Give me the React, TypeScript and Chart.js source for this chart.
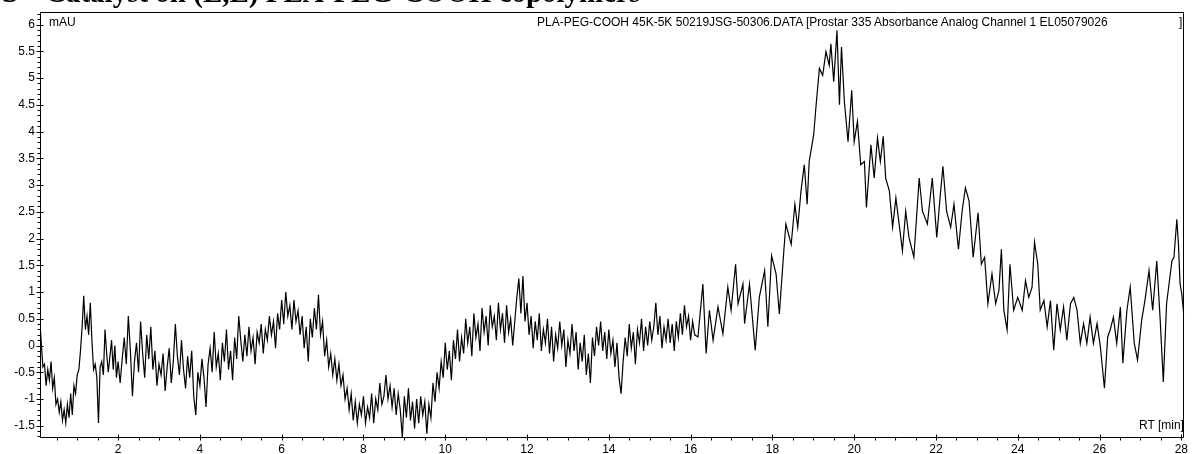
import React, { useEffect, useRef } from "react";
import { Chart, registerables } from "chart.js";

Chart.register(...registerables);

// Retention time (min) and absorbance (mAU)
const rtMin: number[] = [
  0.10, 0.13, 0.16, 0.20, 0.24, 0.28, 0.32, 0.36, 0.40, 0.44, 0.48, 0.52, 0.56, 0.60, 0.64, 0.68, 0.72, 0.76, 0.80, 0.84,
  0.88, 0.92, 0.96, 1.00, 1.04, 1.08, 1.12, 1.16, 1.20, 1.24, 1.28, 1.32, 1.36, 1.40, 1.44, 1.48, 1.52, 1.56, 1.60, 1.64,
  1.68, 1.72, 1.76, 1.80, 1.84, 1.88, 1.92, 1.96, 2.00, 2.05, 2.10, 2.15, 2.20, 2.25, 2.30, 2.35, 2.40, 2.45, 2.50, 2.55,
  2.60, 2.65, 2.70, 2.75, 2.80, 2.85, 2.90, 2.95, 3.00, 3.05, 3.10, 3.15, 3.20, 3.25, 3.30, 3.35, 3.40, 3.45, 3.50, 3.55,
  3.60, 3.65, 3.70, 3.75, 3.80, 3.85, 3.90, 3.95, 4.00, 4.05, 4.10, 4.15, 4.20, 4.25, 4.30, 4.35, 4.40, 4.45, 4.50, 4.55,
  4.60, 4.65, 4.70, 4.75, 4.80, 4.85, 4.90, 4.95, 5.00, 5.05, 5.10, 5.15, 5.20, 5.25, 5.30, 5.35, 5.40, 5.45, 5.50, 5.55,
  5.60, 5.65, 5.70, 5.75, 5.80, 5.85, 5.90, 5.95, 6.00, 6.05, 6.10, 6.15, 6.20, 6.25, 6.30, 6.35, 6.40, 6.45, 6.50, 6.55,
  6.60, 6.65, 6.70, 6.75, 6.80, 6.85, 6.90, 6.95, 7.00, 7.05, 7.10, 7.15, 7.20, 7.25, 7.30, 7.35, 7.40, 7.45, 7.50, 7.55,
  7.60, 7.65, 7.70, 7.75, 7.80, 7.85, 7.90, 7.95, 8.00, 8.05, 8.10, 8.15, 8.20, 8.25, 8.30, 8.35, 8.40, 8.45, 8.50, 8.55,
  8.60, 8.65, 8.70, 8.75, 8.80, 8.85, 8.90, 8.95, 9.00, 9.05, 9.10, 9.15, 9.20, 9.25, 9.30, 9.35, 9.40, 9.45, 9.50, 9.55,
  9.60, 9.65, 9.70, 9.75, 9.80, 9.85, 9.90, 9.95, 10.00, 10.05, 10.10, 10.15, 10.20, 10.25, 10.30, 10.35, 10.40, 10.45, 10.50, 10.55,
  10.60, 10.65, 10.70, 10.75, 10.80, 10.85, 10.90, 10.95, 11.00, 11.05, 11.10, 11.15, 11.20, 11.25, 11.30, 11.35, 11.40, 11.45, 11.50, 11.55,
  11.60, 11.65, 11.70, 11.75, 11.80, 11.85, 11.90, 11.95, 12.00, 12.05, 12.10, 12.15, 12.20, 12.25, 12.30, 12.35, 12.40, 12.45, 12.50, 12.55,
  12.60, 12.65, 12.70, 12.75, 12.80, 12.85, 12.90, 12.95, 13.00, 13.05, 13.10, 13.15, 13.20, 13.25, 13.30, 13.35, 13.40, 13.45, 13.50, 13.55,
  13.60, 13.65, 13.70, 13.75, 13.80, 13.85, 13.90, 13.95, 14.00, 14.05, 14.10, 14.15, 14.20, 14.25, 14.30, 14.35, 14.40, 14.45, 14.50, 14.55,
  14.60, 14.65, 14.70, 14.75, 14.80, 14.85, 14.90, 14.95, 15.00, 15.05, 15.10, 15.15, 15.20, 15.25, 15.30, 15.35, 15.40, 15.45, 15.50, 15.55,
  15.60, 15.65, 15.70, 15.75, 15.80, 15.85, 15.90, 15.95, 16.00, 16.05, 16.10,
  16.18, 16.30, 16.38, 16.46, 16.55, 16.67, 16.79, 16.91, 16.99, 17.10, 17.16, 17.28, 17.32, 17.44, 17.58, 17.68, 17.81, 17.89, 17.98, 18.09,
  18.17, 18.28, 18.33, 18.46, 18.55, 18.62, 18.70, 18.78, 18.85, 18.90, 19.01, 19.07, 19.15, 19.23, 19.31, 19.39, 19.43, 19.50, 19.58, 19.64,
  19.69, 19.76, 19.85, 19.94, 20.00, 20.08, 20.16, 20.25, 20.30, 20.41, 20.49, 20.57, 20.64, 20.71, 20.77, 20.86, 20.94, 21.02, 21.10, 21.18,
  21.26, 21.34, 21.46, 21.59, 21.67, 21.79, 21.91, 22.02, 22.10, 22.17, 22.26, 22.36, 22.44, 22.55, 22.64, 22.72, 22.81, 22.91, 23.03, 23.11,
  23.19, 23.27, 23.37, 23.46, 23.54, 23.60, 23.66, 23.74, 23.81, 23.90, 24.00, 24.11, 24.19, 24.27, 24.35, 24.41, 24.49, 24.55, 24.64, 24.72,
  24.80, 24.88, 24.96, 25.04, 25.12, 25.20, 25.29, 25.37, 25.45, 25.53, 25.61, 25.69, 25.77, 25.85, 25.94, 26.02, 26.12, 26.20, 26.26, 26.34,
  26.42, 26.51, 26.57, 26.67, 26.75, 26.85, 26.93, 27.03, 27.11, 27.21, 27.30, 27.40, 27.48, 27.56, 27.64, 27.77, 27.82, 27.89, 27.93, 27.97,
  28.01, 28.06,
];

const absorbanceMAU: number[] = [
  0.30, -0.05, -0.40, -0.35, -0.75, -0.45, -0.65, -0.30, -0.80, -0.60, -1.10, -1.00, -1.25, -1.05, -1.40, -1.20, -1.45, -1.10, -1.35, -0.90,
  -1.30, -0.75, -0.90, -0.55, -0.45, -0.10, 0.35, 0.93, 0.30, 0.55, 0.20, 0.80, 0.10, -0.45, -0.35, -0.60, -1.45, -0.40, -0.30, -0.55,
  0.30, -0.15, -0.50, -0.20, 0.10, -0.45, 0.00, -0.60, -0.30, -0.70, -0.25, 0.15, -0.35, 0.55, -0.10, -0.95, -0.30, 0.05, -0.50, 0.45,
  -0.15, -0.60, 0.20, -0.25, 0.35, -0.45, -0.10, -0.75, -0.35, -0.55, -0.15, -0.85, -0.40, -0.05, -0.70, -0.30, 0.40, -0.20, -0.55, 0.10,
  -0.45, -0.80, -0.20, -0.60, -0.10, -0.95, -1.30, -0.50, -0.75, -0.25, -0.60, -1.15, -0.35, -0.05, -0.50, 0.25, -0.40, -0.15, -0.65, 0.05,
  -0.30, 0.30, -0.45, -0.10, -0.65, 0.15, -0.25, 0.55, 0.10, -0.30, 0.20, -0.20, 0.35, -0.10, 0.15, -0.35, 0.25, 0.05, 0.40, -0.15,
  0.30, 0.10, 0.55, 0.20, 0.45, -0.05, 0.60, 0.30, 0.85, 0.40, 1.00, 0.55, 0.75, 0.30, 0.85, 0.45, 0.65, 0.20, 0.55, -0.05,
  0.35, -0.30, 0.50, 0.15, 0.70, 0.30, 0.95, 0.20, 0.45, -0.20, 0.10, -0.40, -0.15, -0.55, -0.25, -0.65, -0.35, -0.75, -0.55, -1.00,
  -0.80, -1.20, -0.90, -1.40, -1.05, -1.45, -1.10, -1.30, -0.95, -1.45, -1.15, -1.35, -0.90, -1.45, -1.00, -1.20, -0.70, -1.10, -0.95, -0.55,
  -1.00, -0.75, -1.15, -0.80, -1.30, -0.90, -1.20, -1.72, -0.95, -1.35, -0.80, -1.40, -1.05, -1.55, -1.00, -1.45, -0.95, -1.30, -1.05, -1.65,
  -1.10, -1.35, -0.70, -1.05, -0.50, -0.80, -0.30, -0.60, 0.05, -0.45, -0.10, -0.65, 0.10, -0.25, 0.30, -0.30, 0.15, -0.15, 0.50, 0.05,
  0.35, -0.20, 0.60, 0.15, 0.40, -0.10, 0.70, 0.25, 0.55, 0.00, 0.75, 0.35, 0.55, 0.10, 0.80, 0.30, 0.60, 0.05, 0.75, 0.25,
  0.50, 0.00, 0.45, 0.90, 1.25, 0.60, 1.30, 0.45, 0.80, 0.20, 0.55, -0.05, 0.45, 0.10, 0.60, -0.10, 0.30, 0.05, 0.50, -0.15,
  0.35, -0.30, 0.20, -0.05, 0.45, 0.00, 0.30, -0.40, 0.10, -0.15, 0.40, -0.10, 0.25, -0.45, 0.05, -0.30, 0.20, -0.55, -0.15, -0.70,
  0.15, -0.20, 0.35, 0.00, 0.45, -0.10, 0.25, -0.25, 0.30, -0.15, 0.10, -0.40, 0.05, -0.60, -0.90, -0.30, 0.15, -0.20, 0.40, -0.05,
  0.25, -0.35, 0.30, 0.05, 0.50, -0.10, 0.35, 0.00, 0.45, 0.10, 0.35, 0.80, 0.20, 0.55, -0.05, 0.35, 0.10, 0.50, 0.05, 0.40,
  -0.10, 0.45, 0.15, 0.60, 0.20, 0.75, 0.35, 0.55, 0.10, 0.45, 0.20,
  0.16, 1.15, -0.15, 0.66, 0.10, 0.72, 0.22, 1.09, 0.66, 1.52, 0.78, 1.15, 0.41, 1.15, -0.09, 0.90, 1.40, 0.35, 1.68, 1.34,
  0.59, 1.77, 2.27, 1.89, 2.64, 2.21, 2.89, 3.38, 2.64, 3.44, 3.94, 4.50, 5.18, 5.05, 5.49, 5.24, 5.64, 4.93, 5.89, 4.50,
  5.58, 4.56, 3.81, 4.77, 3.81, 4.19, 3.38, 3.44, 2.58, 3.75, 3.13, 3.88, 3.44, 3.91, 3.13, 2.89, 2.21, 2.76, 2.27, 1.77,
  2.51, 2.02, 1.65, 3.13, 2.51, 2.27, 3.13, 2.02, 2.76, 3.35, 2.51, 2.21, 2.64, 1.80, 2.51, 2.95, 2.70, 1.65, 2.48, 1.52,
  1.65, 0.78, 1.34, 0.78, 1.03, 1.80, 0.66, 0.29, 1.52, 0.66, 0.90, 0.66, 1.21, 0.90, 1.09, 1.93, 1.52, 0.66, 0.84, 0.35,
  0.84, -0.09, 0.78, 0.29, 0.72, 0.10, 0.78, 0.90, 0.66, 0.04, 0.41, 0.04, 0.53, 0.04, 0.41, -0.02, -0.80, 0.16, 0.29, 0.53,
  0.04, 0.72, -0.33, 0.66, 1.09, 0.04, -0.27, 0.47, 0.84, 1.40, 0.66, 1.58, 0.53, -0.68, 0.78, 1.58, 1.65, 2.36, 1.89, 1.15,
  0.97, 0.59,
];

const xTickLabels: number[] = [2, 4, 6, 8, 10, 12, 14, 16, 18, 20, 22, 24, 26, 28];
const yTickLabels: number[] = [-1.5, -1, -0.5, 0, 0.5, 1, 1.5, 2, 2.5, 3, 3.5, 4, 4.5, 5, 5.5, 6];

const X_MIN = 0.09;
const X_MAX = 28.07;
const Y_MIN = -1.71;
const Y_MAX = 6.23;

const FONT = "'Liberation Sans', Arial, sans-serif";

const tickPlugin = {
  id: "chromTicks",
  afterDraw(chart: any) {
    const { ctx, chartArea: a } = chart;
    const xs = chart.scales.x;
    const ys = chart.scales.y;
    const L = Math.round(a.left) + 0.5;
    const R = Math.round(a.right) - 0.5;
    const T = Math.round(a.top) + 0.5;
    const B = Math.round(a.bottom) + 0.5;
    ctx.save();
    ctx.strokeStyle = "#000";
    ctx.lineWidth = 1;
    ctx.beginPath();
    ctx.rect(L, T, R - L, B - T);
    xTickLabels.forEach((v) => {
      const p = Math.round(xs.getPixelForValue(v)) + 0.5;
      ctx.moveTo(p, B - 3);
      ctx.lineTo(p, B + 3);
    });
    for (let i = Math.ceil(X_MIN * 2); i <= Math.floor(X_MAX * 2); i++) {
      const v = i / 2;
      if (v % 2 === 0) continue;
      const p = Math.round(xs.getPixelForValue(v)) + 0.5;
      ctx.moveTo(p, B);
      ctx.lineTo(p, B + 3);
    }
    yTickLabels.forEach((v) => {
      const p = Math.round(ys.getPixelForValue(v)) + 0.5;
      ctx.moveTo(L - 4, p);
      ctx.lineTo(L + 3, p);
    });
    for (let i = Math.ceil(Y_MIN * 10); i <= Math.floor(Y_MAX * 10); i++) {
      if (i % 5 === 0) continue;
      const p = Math.round(ys.getPixelForValue(i / 10)) + 0.5;
      ctx.moveTo(L - 3, p);
      ctx.lineTo(L, p);
    }
    ctx.stroke();
    ctx.restore();
  },
};

export default function App() {
  const ref = useRef<HTMLCanvasElement | null>(null);

  useEffect(() => {
    if (!ref.current) return;
    const points = rtMin.map((t, i) => ({ x: t, y: absorbanceMAU[i] }));
    const chart = new Chart(ref.current, {
      type: "line",
      data: {
        datasets: [
          {
            data: points,
            borderColor: "#000",
            borderWidth: 1.2,
            pointRadius: 0,
            tension: 0,
            fill: false,
          },
        ],
      },
      options: {
        animation: false,
        responsive: false,
        devicePixelRatio: 1,
        layout: { padding: { top: 10, right: 6, left: 0, bottom: 0 } },
        plugins: { legend: { display: false }, tooltip: { enabled: false } },
        scales: {
          x: {
            type: "linear",
            min: X_MIN,
            max: X_MAX,
            grid: { display: false, drawTicks: false, tickLength: 0 },
            border: { display: false },
            afterBuildTicks: (s: any) => {
              s.ticks = xTickLabels.map((v) => ({ value: v }));
            },
            afterFit: (s: any) => {
              s.height = 17;
            },
            ticks: {
              color: "#000",
              font: { family: FONT, size: 12 },
              padding: 5,
              maxRotation: 0,
              autoSkip: false,
              callback: (v: any) => String(v),
            },
          },
          y: {
            type: "linear",
            min: Y_MIN,
            max: Y_MAX,
            grid: { display: false, drawTicks: false, tickLength: 0 },
            border: { display: false },
            afterBuildTicks: (s: any) => {
              s.ticks = yTickLabels.map((v) => ({ value: v }));
            },
            afterFit: (s: any) => {
              s.width = 40;
            },
            ticks: {
              color: "#000",
              font: { family: FONT, size: 12 },
              padding: 5,
              autoSkip: false,
              callback: (v: any) => String(v),
            },
          },
        },
      },
      plugins: [tickPlugin],
    });
    return () => chart.destroy();
  }, []);

  const small: React.CSSProperties = {
    position: "absolute",
    fontFamily: FONT,
    fontSize: 12,
    lineHeight: "12px",
    color: "#000",
    whiteSpace: "nowrap",
  };

  const titleFont: React.CSSProperties = {
    position: "absolute",
    top: -22,
    fontFamily: "'Liberation Serif', 'Times New Roman', serif",
    fontWeight: "bold",
    fontSize: 29,
    lineHeight: "29px",
    whiteSpace: "nowrap",
    color: "#000",
  };

  return (
    <div
      style={{
        position: "fixed",
        left: 0,
        top: 0,
        width: 1193,
        height: 454,
        background: "#fff",
        overflow: "hidden",
      }}
    >
      <canvas ref={ref} width={1193} height={454} style={{ position: "absolute", left: 0, top: 0 }} />
      <div style={{ ...titleFont, left: 2 }}>S</div>
      <div style={{ ...titleFont, left: 45 }}>Catalyst on (L,L) PLA-PEG-COOH copolymers</div>
      <div style={{ ...small, left: 49, top: 16 }}>mAU</div>
      <div style={{ ...small, left: 537, top: 16 }}>
        PLA-PEG-COOH 45K-5K 50219JSG-50306.DATA [Prostar 335 Absorbance Analog Channel 1 EL05079026
      </div>
      <div style={{ ...small, left: 1179, top: 16 }}>]</div>
      <div style={{ ...small, left: 1139, top: 419 }}>RT [min]</div>
    </div>
  );
}
